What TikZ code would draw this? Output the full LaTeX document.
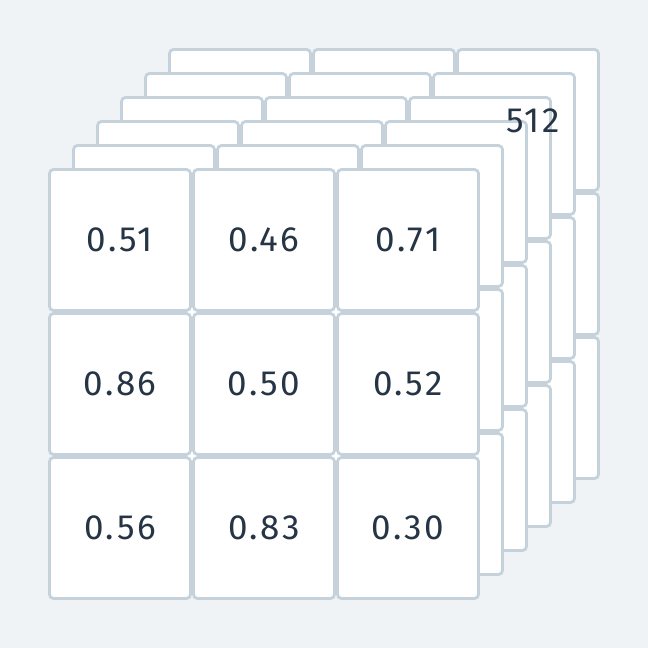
\documentclass[tikz,border=0pt]{standalone}
\usepackage{fontspec}
\setmainfont{Fira Sans}[LetterSpace=7]
\definecolor{bg}{HTML}{EFF3F6}
\definecolor{edge}{HTML}{C5D2DC}
\definecolor{ink}{HTML}{263545}
\begin{document}
\begin{tikzpicture}[x=1pt,y=1pt,line join=round,
  cell/.style={draw=edge,fill=white,line width=2.8pt,rounded corners=4pt,minimum size=141pt,inner sep=0pt,font=\fontsize{35}{40}\selectfont,text=ink}]
\fill[bg] (0,0) rectangle (648,648);
\useasboundingbox (0,0) rectangle (648,648);
% channels behind the front one
\foreach \k in {5,4,3,2,1} {
  \foreach \i in {0,1,2} {
    \foreach \j in {0,1,2} {
      \node[cell] (c\k\i\j) at ({120+144*\i+24*\k},{408-144*\j+24*\k}) {};
    }
  }
}
% front channel
\node[cell] (v00) at (120,408) {0.51};
\node[cell] (v10) at (264,408) {0.46};
\node[cell] (v20) at (408,408) {0.71};
\node[cell] (v01) at (120,264) {0.86};
\node[cell] (v11) at (264,264) {0.50};
\node[cell] (v21) at (408,264) {0.52};
\node[cell] (v02) at (120,120) {0.56};
\node[cell] (v12) at (264,120) {0.83};
\node[cell] (v22) at (408,120) {0.30};
\node[font=\fontsize{35}{40}\selectfont,text=ink,inner sep=0pt] (depth) at (533,527) {512};
\end{tikzpicture}
\end{document}
